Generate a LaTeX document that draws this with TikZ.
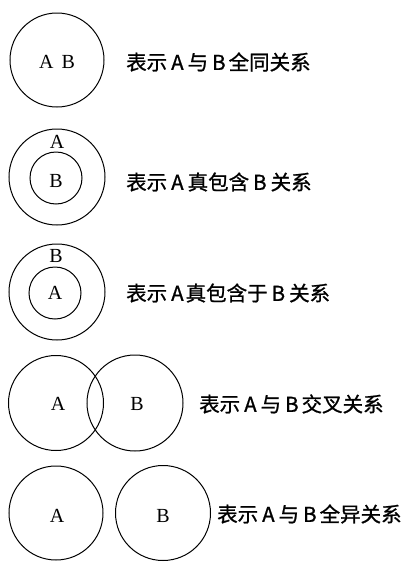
\documentclass[tikz,border=0pt]{standalone}
\usepackage{fontspec}
\setmainfont{Liberation Serif}
\newfontfamily\cjk{Noto Sans CJK SC}[FakeBold=1]
\begin{document}
\begin{tikzpicture}[x=1pt,y=-1pt,
  ring/.style={draw,circle,line width=1pt,inner sep=0pt},
  letter/.style={font=\fontsize{20}{20}\selectfont},
  caption/.style={anchor=west,inner sep=0pt,font=\cjk\fontsize{20.5}{21}\selectfont}]
\useasboundingbox (0,0) rectangle (419,563);
% row 1
\node[ring,minimum size=94pt] (c1) at (57,60) {};
\node[letter] (t1) at (57,62) {A\hspace{8pt}B};
\node[caption] (l1) at (126,62) {表示\hspace{4pt}A\hspace{4pt}与\hspace{4pt}B\hspace{3pt}全同关系};
% row 2
\node[ring,minimum size=96pt] (c2o) at (57,177) {};
\node[ring,minimum size=52pt] (c2i) at (56,178) {};
\node[letter] (t2a) at (57,142) {A};
\node[letter] (t2b) at (56,181) {B};
\node[caption] (l2) at (126,182) {表示\hspace{4pt}A\hspace{4pt}真包含\hspace{4pt}B\hspace{4pt}关系};
% row 3
\node[ring,minimum size=96pt] (c3o) at (57,292) {};
\node[ring,minimum size=52pt] (c3i) at (55,293) {};
\node[letter] (t3b) at (56,256) {B};
\node[letter] (t3a) at (55,293) {A};
\node[caption] (l3) at (126,293) {表示\hspace{4pt}A\hspace{2pt}真包含于\hspace{4pt}B\hspace{4pt}关系};
% row 4
\node[ring,minimum size=95pt] (c4a) at (56,403) {};
\node[ring,minimum size=96pt] (c4b) at (135,403) {};
\node[letter] (t4a) at (58,404) {A};
\node[letter] (t4b) at (137,404) {B};
\node[caption] (l4) at (199,404) {表示\hspace{4pt}A\hspace{4pt}与\hspace{4pt}B\hspace{3pt}交叉关系};
% row 5
\node[ring,minimum size=94pt] (c5a) at (56,513) {};
\node[ring,minimum size=95pt] (c5b) at (163,513) {};
\node[letter] (t5a) at (57,516) {A};
\node[letter] (t5b) at (163,516) {B};
\node[caption] (l5) at (217,514) {表示\hspace{4pt}A\hspace{4pt}与\hspace{4pt}B\hspace{3pt}全异关系};
\end{tikzpicture}
\end{document}
